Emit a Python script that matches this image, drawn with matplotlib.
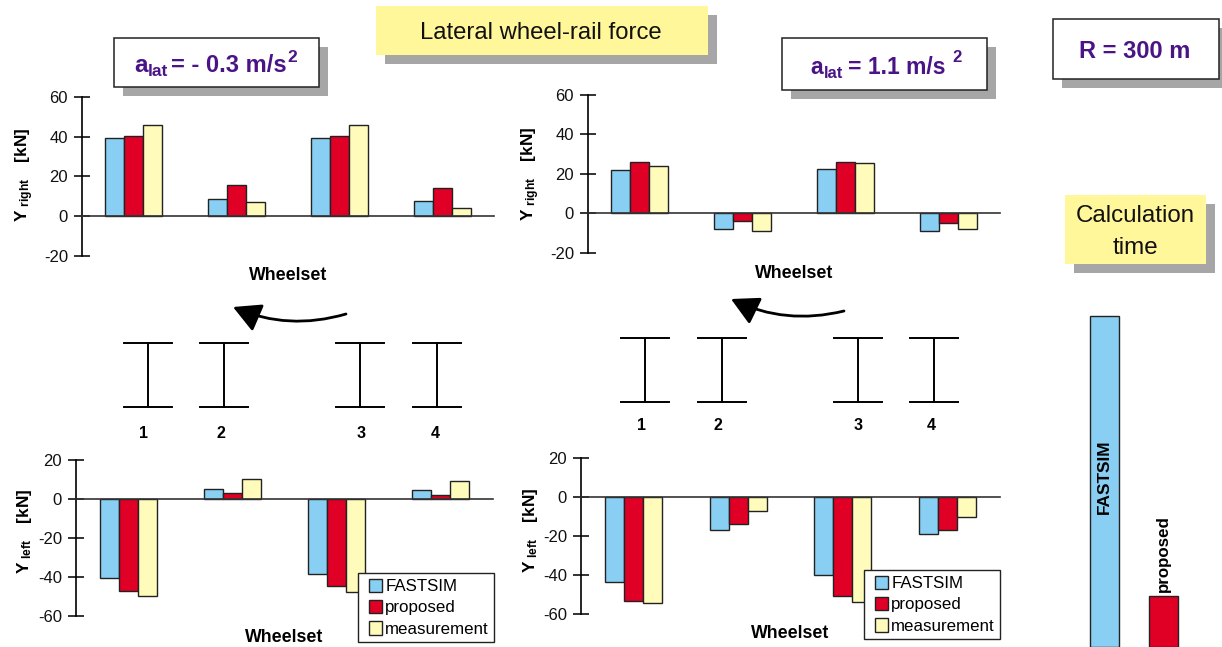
import matplotlib
matplotlib.use("Agg")
import numpy as np
import matplotlib.pyplot as plt
from matplotlib.container import BarContainer
from matplotlib.legend_handler import HandlerPatch
from matplotlib.patches import Rectangle, FancyArrowPatch

plt.rcParams['font.family'] = ['Liberation Sans', 'DejaVu Sans']
plt.rcParams['mathtext.fontset'] = 'custom'
plt.rcParams['mathtext.rm'] = 'Liberation Sans'
plt.rcParams['mathtext.bf'] = 'Liberation Sans:bold'
plt.rcParams['mathtext.default'] = 'bf'
plt.rcParams['axes.unicode_minus'] = False

W = 1222
H = 647

series_names = ['FASTSIM', 'proposed', 'measurement']
colors = ['#89CFF3', '#E00025', '#FFFBBB']

# top left, a_lat = -0.3
right_a_fastsim = [39.5, 8.5, 39.5, 7.5]
right_a_proposed = [40.5, 15.5, 40.5, 14]
right_a_measure = [46, 7, 46, 4]
# bottom left
left_a_fastsim = [-40.5, 5, -38.5, 4.5]
left_a_proposed = [-47, 3.3, -44.5, 2.2]
left_a_measure = [-49.5, 10.3, -47.5, 9]
# top right, a_lat = 1.1
right_b_fastsim = [22, -8, 22.5, -9]
right_b_proposed = [26, -4, 26, -5]
right_b_measure = [24, -9, 25.3, -8]
# bottom right
left_b_fastsim = [-43.5, -17, -40, -19]
left_b_proposed = [-53.5, -14, -51, -17]
left_b_measure = [-54.5, -7, -54, -10]

# calculation time, relative
calc_names = ['FASTSIM', 'proposed']
calc_values = [100, 15.4]

wheelsets = ['1', '2', '3', '4']
ticks_right = [-20, 0, 20, 40, 60]
ticks_left = [-60, -40, -20, 0, 20]

fig = plt.figure(figsize=(W / 100, H / 100), dpi=100)


def pixel_axes(x0, x1, ytop, ybottom, **kw):
    return fig.add_axes([x0 / W, 1 - ybottom / H, (x1 - x0) / W, (ybottom - ytop) / H], **kw)


# small square legend keys, pushed right inside the handle box
def key_patch(legend, orig_handle, xdescent, ydescent, width, height, fontsize):
    return Rectangle((4 - xdescent, (height - 9.6) / 2 - ydescent), 9.6, 9.6)


def key_style(target, orig):
    target.update_from(orig.get_children()[0])


def BarChart(x0, x1, ytop, ybottom, ticks, data, ylab, ylab_pos, xlab_pos, legend_box=None):
    ax = pixel_axes(x0, x1, ytop, ybottom)
    ax.patch.set_alpha(0)
    w = 0.182
    for j, vals in enumerate(data):
        pos = np.arange(4) + 0.5 + (j - 1) * w
        ax.bar(pos, vals, w, color=colors[j], edgecolor='#222222', linewidth=1.0,
               label=series_names[j], zorder=3)
    ax.set_xlim(0, 4)
    ax.set_ylim(ticks[0], ticks[-1])
    ax.set_yticks(ticks)
    ax.set_xticks([])
    ax.tick_params(axis='y', direction='inout', length=12, width=1.2, labelsize=12, pad=4,
                   colors='#111111')
    for s in ['top', 'right']:
        ax.spines[s].set_visible(False)
    ax.spines['bottom'].set_position(('data', 0))
    ax.spines['bottom'].set_zorder(4)
    ax.spines['left'].set_linewidth(1.2)
    ax.spines['bottom'].set_linewidth(1.2)
    ax.spines['bottom'].set_color('#333333')
    fig.text(ylab_pos[0] / W, 1 - ylab_pos[1] / H, ylab, rotation=90, ha='center', va='center',
             fontsize=12.4)
    fig.text(xlab_pos[0] / W, 1 - xlab_pos[1] / H, 'Wheelset', ha='center', va='center',
             fontsize=12.8, fontweight='bold')
    if legend_box is not None:
        leg = ax.legend(loc='lower right', bbox_to_anchor=(legend_box[0] / W, 1 - legend_box[1] / H),
                        bbox_transform=fig.transFigure, borderaxespad=0, fancybox=False,
                        framealpha=1, edgecolor='#222222', fontsize=12.2, handlelength=1.0,
                        handleheight=1.0, handletextpad=0.3, labelspacing=0.3, borderpad=0.3,
                        handler_map={BarContainer: HandlerPatch(patch_func=key_patch, update_func=key_style)})
        leg.set_zorder(10)
        leg.get_frame().set_linewidth(1.0)
    return ax


# background layer, in pixels
bg = fig.add_axes([0, 0, 1, 1])
bg.set_xlim(0, W)
bg.set_ylim(H, 0)
bg.axis('off')


def Box(x0, y0, x1, y1, face, edge):
    bg.add_patch(Rectangle((x0 + 9, y0 + 9), x1 - x0, y1 - y0, facecolor='#A6A6A6', edgecolor='none', zorder=1))
    bg.add_patch(Rectangle((x0, y0), x1 - x0, y1 - y0, facecolor=face, edgecolor=edge, linewidth=1.1, zorder=2))


def Piece(x, y, s, size):
    bg.text(x, y, s, ha='left', va='baseline', fontsize=size, fontweight='bold', color=purple, zorder=3)


purple = '#4A1486'
Box(376, 6, 708, 55, '#FFF799', 'none')
bg.text(541, 33, 'Lateral wheel-rail force', ha='center', va='center', fontsize=17.2, zorder=3, color='#111111')

Box(114, 38, 319, 87, 'white', '#222222')
Piece(134, 72, 'a', 17.5)
Piece(148, 76, 'lat', 12.5)
Piece(171, 72, '= - 0.3 m/s', 17)
Piece(287, 62, '2', 12.5)

Box(782, 38, 987, 90, 'white', '#222222')
Piece(810, 73.5, 'a', 16.5)
Piece(824, 77.5, 'lat', 12)
Piece(848, 73.5, '= 1.1 m/s', 16.5)
Piece(952, 62, '2', 12)

Box(1053, 19, 1219, 79, 'white', '#222222')
bg.text(1135, 52, 'R = 300 m', ha='center', va='center', fontsize=17, fontweight='bold', color=purple, zorder=3)
Box(1065, 195, 1206, 264, '#FFF799', 'none')
bg.text(1135, 232, 'Calculation\ntime', ha='center', va='center', fontsize=17.4, linespacing=1.55, zorder=3,
        color='#111111')

# wheelset symbols
for xs, xl, ytop, ylabel in [([148, 224, 360, 437], [144, 221, 361, 435], 343, 433),
                             ([645, 722, 858, 934], [641, 718, 858, 931], 338, 425)]:
    for x, lx, name in zip(xs, xl, wheelsets):
        bg.plot([x, x], [ytop, ytop + 64], color='black', lw=1.4)
        bg.plot([x - 24, x + 24], [ytop, ytop], color='black', lw=1.4)
        bg.plot([x - 24, x + 24], [ytop + 64, ytop + 64], color='black', lw=1.4)
        bg.text(lx, ylabel, name, ha='center', va='center', fontsize=11.5, fontweight='bold')

# travel direction
for start, end in [((346, 314), (233, 307)), ((844, 311), (731, 299))]:
    bg.add_patch(FancyArrowPatch(start, end, connectionstyle='arc3,rad=-0.18',
                                 arrowstyle='-|>,head_length=0.6,head_width=0.32',
                                 mutation_scale=28, lw=2.0, color='black', shrinkA=0, shrinkB=0))

BarChart(82, 494, 97, 255.5, ticks_right, [right_a_fastsim, right_a_proposed, right_a_measure],
         r'$\mathbf{Y}_{\ \mathbf{right}}\mathbf{\ \ \ [kN]}$', (25, 175), (288.5, 275))
BarChart(76, 493, 460, 616, ticks_left, [left_a_fastsim, left_a_proposed, left_a_measure],
         r'$\mathbf{Y}_{\ \mathbf{left}}\mathbf{\ \ \ [kN]}$', (25, 531), (284, 637), legend_box=(494, 642))
BarChart(588, 1000, 94.7, 253, ticks_right, [right_b_fastsim, right_b_proposed, right_b_measure],
         r'$\mathbf{Y}_{\ \mathbf{right}}\mathbf{\ \ \ [kN]}$', (531, 173.5), (794, 273))
BarChart(581, 1000, 458, 614, ticks_left, [left_b_fastsim, left_b_proposed, left_b_measure],
         r'$\mathbf{Y}_{\ \mathbf{left}}\mathbf{\ \ \ [kN]}$', (531, 530), (790, 634), legend_box=(1000, 639))

# calculation time bars
cax = pixel_axes(1075.5, 1192.5, 316, 647)
cax.patch.set_alpha(0)
cax.bar(range(2), calc_values, 0.5, color=[colors[0], colors[1]], edgecolor='#222222', linewidth=1.0, clip_on=False)
cax.set_xlim(-0.5, 1.5)
cax.set_ylim(0, 100)
cax.axis('off')
cax.text(0, 51.4, calc_names[0], rotation=90, ha='center', va='center', fontsize=12.4, fontweight='bold')
cax.text(1, calc_values[1] + 1.2, calc_names[1], rotation=90, ha='center', va='bottom', fontsize=12.2,
         fontweight='bold')

fig.savefig('out.png', dpi=100)
